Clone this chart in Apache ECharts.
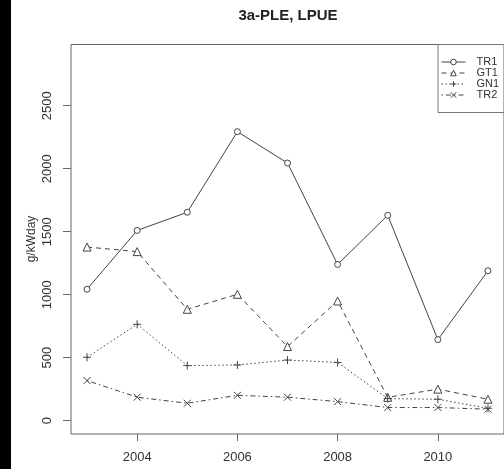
<!DOCTYPE html>
<html>
<head>
<meta charset="utf-8">
<script src="https://cdn.jsdelivr.net/npm/echarts@6/dist/echarts.min.js"></script>
<style>
  html, body { margin: 0; padding: 0; background: #fff; }
  #chart { width: 504px; height: 469px; }
</style>
</head>
<body>
<div id="chart"></div>
<script>
// Landings per unit effort (g/kWday) by fleet segment, 2003-2011
const years = [2003, 2004, 2005, 2006, 2007, 2008, 2009, 2010, 2011];
const tr1 = [1043, 1510, 1654, 2294, 2045, 1240, 1630, 643, 1190];
const gt1 = [1378, 1342, 884, 1003, 588, 950, 185, 250, 170];
const gn1 = [503, 765, 437, 442, 481, 462, 175, 170, 98];
const tr2 = [318, 186, 138, 201, 186, 151, 104, 104, 91];

const xTicks = [2004, 2006, 2008, 2010];
const yTicks = [0, 500, 1000, 1500, 2000, 2500];

const INK = '#444';
const FONT = 'Liberation Sans, Arial, sans-serif';

function pairs(vals) {
  return years.map((y, i) => [y, vals[i]]);
}

function lineSeries(name, vals, symbol, size, dash, fill) {
  return {
    name: name,
    type: 'line',
    data: pairs(vals),
    symbol: symbol,
    symbolSize: size,
    showAllSymbol: true,
    lineStyle: { color: INK, width: 1, type: dash },
    itemStyle: { color: fill, borderColor: INK, borderWidth: 1 },
    emphasis: { disabled: true },
    animation: false,
    z: 3
  };
}

const plusPath = 'path://M5,0L5,10M0,5L10,5';
const crossPath = 'path://M0,0L10,10M10,0L0,10';
const plain = v => String(v);

const chart = echarts.init(document.getElementById('chart'), null, { renderer: 'canvas' });

chart.setOption({
  animation: false,
  backgroundColor: '#fff',
  grid: {
    left: 71, top: 44.5, width: 438.6, height: 389.5,
    show: true, borderColor: '#666', borderWidth: 1, backgroundColor: 'transparent'
  },
  xAxis: {
    type: 'value', min: 2002.68, max: 2011.32,
    axisLine: { show: false, onZero: false },
    splitLine: { show: false },
    axisTick: { show: true, length: 7, customValues: xTicks, lineStyle: { color: '#666' } },
    axisLabel: { customValues: xTicks, formatter: plain, fontSize: 13, color: '#333', fontFamily: FONT, margin: 17 }
  },
  yAxis: {
    type: 'value', min: -106, max: 2986,
    axisLine: { show: false, onZero: false },
    splitLine: { show: false },
    axisTick: { show: true, length: 8, customValues: yTicks, lineStyle: { color: '#666' } },
    axisLabel: { customValues: yTicks, formatter: plain, rotate: 90, fontSize: 13, color: '#333', fontFamily: FONT, margin: 17 }
  },
  legend: {
    orient: 'vertical',
    left: 438, top: 44.5,
    padding: [12, 40, 12, 3],
    itemWidth: 24, itemHeight: 7, itemGap: 0,
    borderColor: '#777', borderWidth: 1,
    lineStyle: { width: 1 },
    itemStyle: { borderWidth: 1 },
    textStyle: { fontSize: 11, color: '#333', fontFamily: FONT, lineHeight: 10, height: 10, padding: [0, 0, 0, 6] },
    data: ['TR1', 'GT1', 'GN1', 'TR2']
  },
  graphic: [
    { type: 'rect', left: 0, top: 0, shape: { width: 11, height: 469 }, style: { fill: '#000' } },
    {
      type: 'text', x: 288, y: 16,
      style: { text: '3a-PLE, LPUE', font: 'bold 15px ' + FONT, fill: '#222', textAlign: 'center', textVerticalAlign: 'middle' }
    },
    {
      type: 'text', x: 32, y: 239, rotation: Math.PI / 2,
      style: { text: 'g/kWday', font: '12px ' + FONT, fill: '#333', textAlign: 'center', textVerticalAlign: 'middle' }
    }
  ],
  series: [
    lineSeries('TR1', tr1, 'circle', 6, 'solid', '#fff'),
    lineSeries('GT1', gt1, 'triangle', 8, [5, 4], '#fff'),
    lineSeries('GN1', gn1, plusPath, 8, [1.5, 2.5], 'rgba(0,0,0,0)'),
    lineSeries('TR2', tr2, crossPath, 7, [1.5, 3, 5, 3], 'rgba(0,0,0,0)')
  ]
});
</script>
</body>
</html>
